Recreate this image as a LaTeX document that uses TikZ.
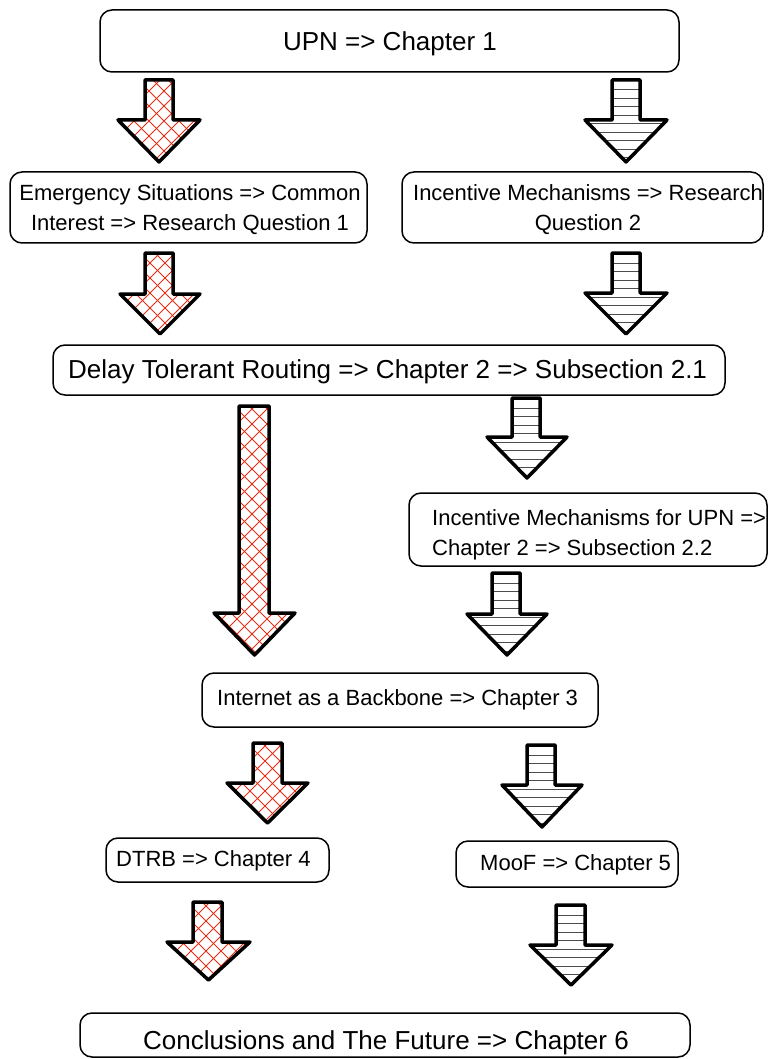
\documentclass[tikz,border=0pt]{standalone}
\usepackage{fontspec}
\setmainfont{Liberation Sans}
\definecolor{hatchred}{RGB}{232,45,20}
% arrow outline: shaft left, shaft right, top, head base, head left, head right, tip
\newcommand\arrowpath[7]{(#1,#3) -- (#2,#3) -- (#2,#4) -- (#6,#4) -- ({(#5+#6)/2},#7) -- (#5,#4) -- (#1,#4) -- cycle}
\newcommand\redarr[7]{%
  \begin{scope}
    \clip \arrowpath{#1}{#2}{#3}{#4}{#5}{#6}{#7};
    \foreach \c in {-400,-385,...,400} {
      \draw[redline] ({#5+\c},#3) -- ({#5+\c+#7-#3},#7);
      \draw[redline] ({#6+\c},#3) -- ({#6+\c-#7+#3},#7);
    }
  \end{scope}
  \draw[arrowline] \arrowpath{#1}{#2}{#3}{#4}{#5}{#6}{#7};}
\newcommand\hatcharr[7]{%
  \begin{scope}
    \clip \arrowpath{#1}{#2}{#3}{#4}{#5}{#6}{#7};
    \foreach \k in {1,...,30} {
      \draw[greyline] (#5,{#3+1.5+8.5*\k}) -- (#6,{#3+1.5+8.5*\k});
    }
  \end{scope}
  \draw[arrowline] \arrowpath{#1}{#2}{#3}{#4}{#5}{#6}{#7};}
\tikzset{
  box/.style={draw=black, line width=1.5pt, rounded corners=12pt, minimum width=#1, inner sep=0pt, outer sep=0pt},
  big/.style={font=\fontsize{26}{30}\selectfont, inner sep=0pt},
  small/.style={font=\fontsize{22}{30}\selectfont, inner sep=0pt},
  redline/.style={draw=hatchred, line width=1pt},
  greyline/.style={draw=black!70, line width=1pt},
  arrowline/.style={draw=black, line width=3.5pt, line join=round},
}
\begin{document}
\begin{tikzpicture}[x=1pt,y=-1pt]
\useasboundingbox[fill=white] (0,0) rectangle (769,1059);
% boxes
\node[box=579, minimum height=62] (b1) at (389.5,41) {};
\node[box=357, minimum height=71] (b2) at (188.5,207.5) {};
\node[box=361, minimum height=71] (b3) at (582.5,207.5) {};
\node[box=672, minimum height=50] (b4) at (389,370) {};
\node[box=358, minimum height=73] (b5) at (588,529.5) {};
\node[box=396, minimum height=54] (b6) at (400,700) {};
\node[box=223, minimum height=44] (b7) at (217.5,860) {};
\node[box=222, minimum height=46] (b8) at (567,864) {};
\node[box=610, minimum height=44] (b9) at (385,1035) {};
% texts
\node[big] (t1) at (390,44) {UPN => Chapter 1};
\node[small, align=center] (t2) at (190,210) {Emergency Situations => Common\\Interest => Research Question 1};
\node[small, align=center] (t3) at (588,210) {Incentive Mechanisms => Research\\Question 2};
\node[big, anchor=west] (t4) at (68,372) {Delay Tolerant Routing => Chapter 2 => Subsection 2.1};
\node[small, align=left, anchor=west] (t5) at (432,535) {Incentive Mechanisms for UPN =>\\Chapter 2 => Subsection 2.2};
\node[small, anchor=west] (t6) at (217,700) {Internet as a Backbone => Chapter 3};
\node[small, anchor=west] (t7) at (116,861) {DTRB => Chapter 4};
\node[small, anchor=west] (t8) at (480,865) {MooF => Chapter 5};
\node[big] (t9) at (386,1043) {Conclusions and The Future => Chapter 6};
% block arrows
\redarr{145}{173}{80}{120}{118}{200}{162}
\hatcharr{612}{640}{80}{120}{585}{667}{162}
\redarr{145}{173}{253}{294}{120}{200}{334}
\hatcharr{612}{640}{253}{293}{585}{667}{334}
\redarr{239}{269}{406}{613}{214}{295}{655}
\hatcharr{512}{540}{398}{437}{487}{567}{478}
\hatcharr{492}{520}{573}{614}{467}{547}{655}
\redarr{253}{282}{743}{783}{227}{308}{823}
\hatcharr{527}{555}{745}{785}{502}{582}{827}
\redarr{193}{222}{902}{942}{167}{250}{980}
\hatcharr{556}{585}{905}{945}{530}{612}{985}
\end{tikzpicture}
\end{document}
